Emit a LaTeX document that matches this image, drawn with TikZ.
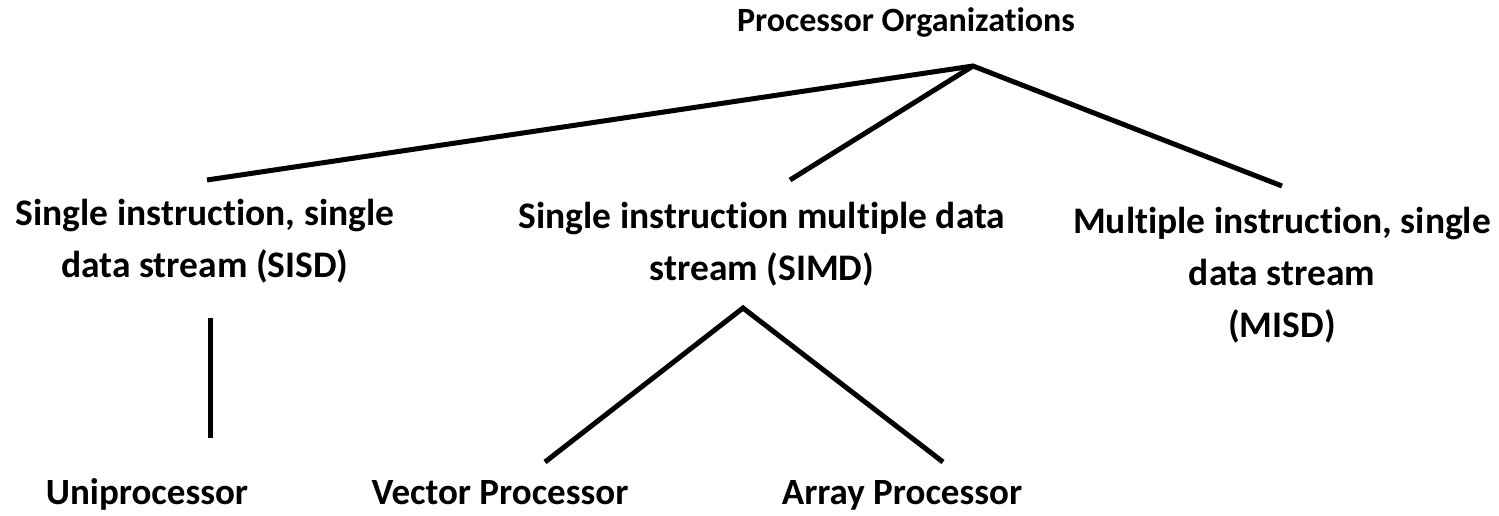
\documentclass[tikz,border=0pt]{standalone}
\usepackage{fontspec}
\setmainfont{Carlito}[Ligatures={NoCommon}]
\begin{document}
\begin{tikzpicture}[x=1pt,y=-1pt,
  branch/.style={line width=5pt,line cap=butt},
  title/.style={font=\fontsize{34}{40}\selectfont\bfseries,inner sep=0pt,anchor=base},
  cls/.style={font=\fontsize{37.5}{52}\selectfont\bfseries,inner sep=0pt,align=center,anchor=north},
  leaf/.style={font=\fontsize{37}{44}\selectfont\bfseries,inner sep=0pt,anchor=base}]
  \useasboundingbox (0,0) rectangle (1499,516);

  % labels
  \node[title] (root) at (906,32) {Processor Organizations};
  \node[cls] (sisd) at (205,225-36.4) {\strut Single instruction, single\\data stream (SISD)};
  \node[cls] (simd) at (762,228-36.4) {\strut Single instruction multiple data\\stream (SIMD)};
  \node[cls] (misd) at (1282,233-36.4) {\strut Multiple instruction, single\\data stream\\(MISD)};
  \node[leaf] (uni) at (147,504) {Uniprocessor};
  \node[leaf] (vec) at (500,504) {Vector Processor};
  \node[leaf] (arr) at (902,504) {Array Processor};

  % branch points
  \coordinate (top) at (973,66);
  \coordinate (topL) at (207,180);
  \coordinate (topM) at (790,180);
  \coordinate (topR) at (1282,186);
  \coordinate (sisdA) at (210,318);
  \coordinate (sisdB) at (210,438);
  \coordinate (simdA) at (743,308);
  \coordinate (simdL) at (545,462);
  \coordinate (simdR) at (943,462);

  \draw[branch] (topL) -- (top) -- (topR);
  \draw[branch] (top) -- (topM);
  \draw[branch] (sisdA) -- (sisdB);
  \draw[branch] (simdL) -- (simdA) -- (simdR);
\end{tikzpicture}
\end{document}
